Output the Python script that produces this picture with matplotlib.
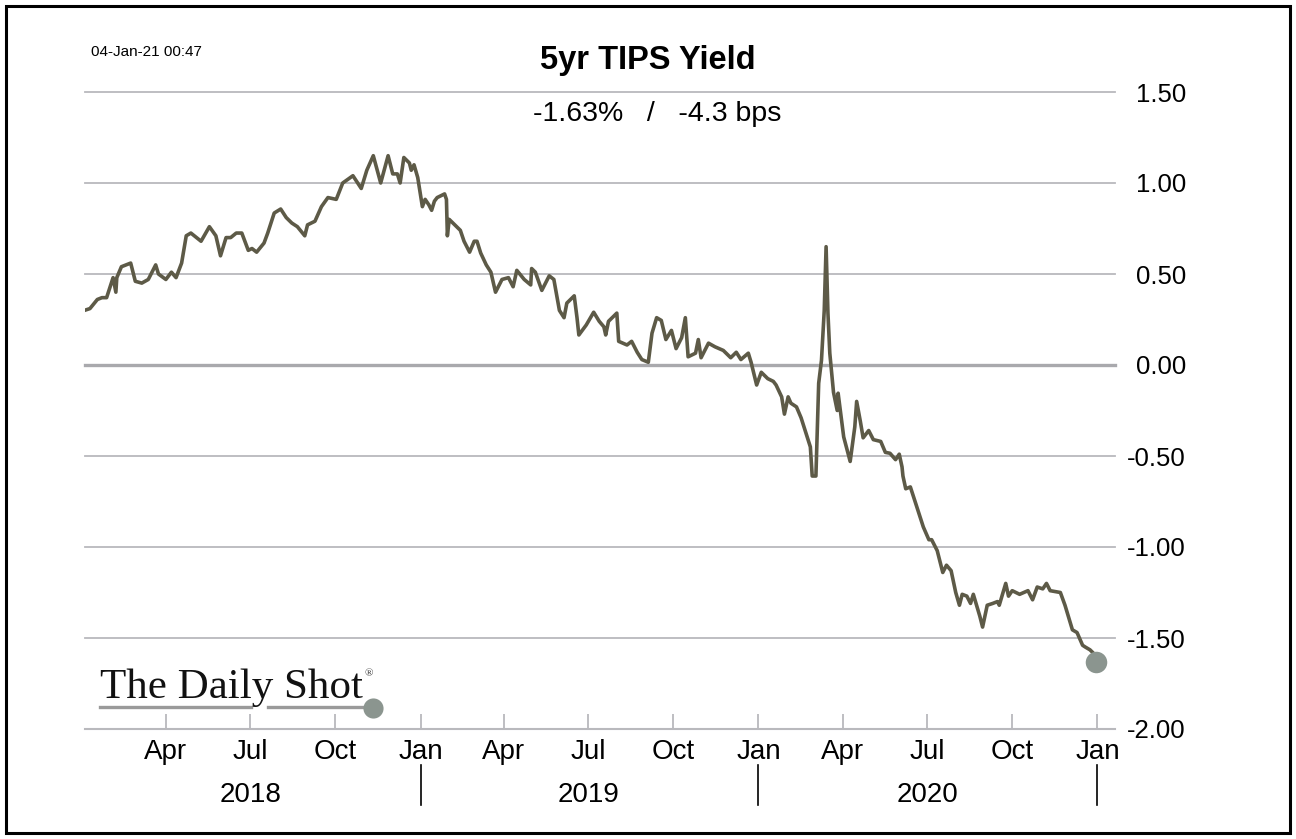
import matplotlib
matplotlib.use("Agg")
import matplotlib.pyplot as plt
import matplotlib.dates as mdates
import matplotlib.transforms as mtransforms
from matplotlib.patches import Rectangle
from matplotlib.lines import Line2D
import pandas as pd

# ---------------- data ----------------
dates = [
    "2018-01-03", "2018-01-09", "2018-01-17", "2018-01-22", "2018-01-27", "2018-02-03", "2018-02-06",
    "2018-02-07", "2018-02-12", "2018-02-22", "2018-02-27", "2018-03-06", "2018-03-13", "2018-03-21",
    "2018-03-24", "2018-04-01", "2018-04-07", "2018-04-12", "2018-04-18", "2018-04-23", "2018-04-28",
    "2018-05-09", "2018-05-18", "2018-05-25", "2018-05-30", "2018-06-05", "2018-06-10", "2018-06-16",
    "2018-06-22", "2018-06-29", "2018-07-03", "2018-07-08", "2018-07-16", "2018-07-20", "2018-07-27",
    "2018-08-03", "2018-08-09", "2018-08-15", "2018-08-21", "2018-08-29", "2018-09-01", "2018-09-09",
    "2018-09-16", "2018-09-23", "2018-10-02", "2018-10-09", "2018-10-20", "2018-10-29", "2018-11-04",
    "2018-11-11", "2018-11-19", "2018-11-27", "2018-12-02", "2018-12-07", "2018-12-10", "2018-12-14",
    "2018-12-20", "2018-12-22", "2018-12-25", "2018-12-29",
    "2019-01-03", "2019-01-06", "2019-01-10", "2019-01-13", "2019-01-16", "2019-01-19", "2019-01-27",
    "2019-01-29", "2019-01-30", "2019-02-01", "2019-02-09", "2019-02-13", "2019-02-17", "2019-02-23",
    "2019-02-28", "2019-03-03", "2019-03-07", "2019-03-13", "2019-03-18", "2019-03-23", "2019-03-30",
    "2019-04-06", "2019-04-11", "2019-04-15", "2019-04-23", "2019-04-30", "2019-05-01", "2019-05-05",
    "2019-05-12", "2019-05-20", "2019-05-25", "2019-05-31", "2019-06-05", "2019-06-08", "2019-06-16",
    "2019-06-19", "2019-06-21", "2019-06-29", "2019-07-07", "2019-07-13", "2019-07-18", "2019-07-20",
    "2019-07-23", "2019-08-01", "2019-08-03", "2019-08-12", "2019-08-17", "2019-08-23", "2019-08-28",
    "2019-09-04", "2019-09-08", "2019-09-13", "2019-09-18", "2019-09-23", "2019-09-29", "2019-10-04",
    "2019-10-10", "2019-10-14", "2019-10-17", "2019-10-25", "2019-10-28", "2019-10-31", "2019-11-08",
    "2019-11-15", "2019-11-24", "2019-12-02", "2019-12-08", "2019-12-13", "2019-12-21", "2019-12-24",
    "2019-12-30",
    "2020-01-04", "2020-01-11", "2020-01-17", "2020-01-20", "2020-01-26", "2020-01-29", "2020-02-02",
    "2020-02-05", "2020-02-11", "2020-02-16", "2020-02-21", "2020-02-26", "2020-02-28", "2020-03-03",
    "2020-03-06", "2020-03-09", "2020-03-12", "2020-03-14", "2020-03-16", "2020-03-18", "2020-03-22",
    "2020-03-26", "2020-03-27", "2020-04-02", "2020-04-09", "2020-04-14", "2020-04-16", "2020-04-20",
    "2020-04-23", "2020-04-29", "2020-05-04", "2020-05-12", "2020-05-17", "2020-05-22", "2020-05-28",
    "2020-06-01", "2020-06-04", "2020-06-05", "2020-06-08", "2020-06-13", "2020-06-20", "2020-06-27",
    "2020-07-03", "2020-07-06", "2020-07-12", "2020-07-18", "2020-07-22", "2020-07-27", "2020-08-01",
    "2020-08-05", "2020-08-08", "2020-08-13", "2020-08-17", "2020-08-20", "2020-08-27", "2020-08-30",
    "2020-09-04", "2020-09-10", "2020-09-15", "2020-09-17", "2020-09-24", "2020-09-27", "2020-10-01",
    "2020-10-09", "2020-10-18", "2020-10-23", "2020-10-28", "2020-11-03", "2020-11-07", "2020-11-11",
    "2020-11-22", "2020-11-27", "2020-12-05", "2020-12-10", "2020-12-16", "2020-12-19", "2020-12-24",
    "2020-12-29", "2020-12-31",
]
values = [
    0.30, 0.31, 0.36, 0.37, 0.37, 0.48, 0.40,
    0.48, 0.54, 0.56, 0.46, 0.45, 0.47, 0.55,
    0.50, 0.47, 0.51, 0.48, 0.56, 0.71, 0.725,
    0.68, 0.76, 0.71, 0.60, 0.70, 0.70, 0.725,
    0.725, 0.63, 0.64, 0.62, 0.67, 0.725, 0.835,
    0.857, 0.81, 0.78, 0.76, 0.71, 0.77, 0.79,
    0.87, 0.92, 0.91, 1.00, 1.04, 0.97, 1.07,
    1.15, 1.00, 1.15, 1.05, 1.05, 1.00, 1.14,
    1.11, 1.07, 1.10, 1.03,
    0.87, 0.91, 0.88, 0.85, 0.90, 0.92, 0.94,
    0.91, 0.71, 0.80, 0.76, 0.74, 0.68, 0.62,
    0.68, 0.68, 0.615, 0.55, 0.51, 0.40, 0.47,
    0.48, 0.43, 0.52, 0.47, 0.44, 0.53, 0.51,
    0.41, 0.49, 0.47, 0.30, 0.26, 0.34, 0.38,
    0.26, 0.165, 0.22, 0.29, 0.24, 0.21, 0.165,
    0.24, 0.285, 0.13, 0.11, 0.13, 0.07, 0.03,
    0.015, 0.175, 0.26, 0.245, 0.14, 0.19, 0.09,
    0.15, 0.26, 0.045, 0.065, 0.14, 0.04, 0.12,
    0.10, 0.08, 0.04, 0.07, 0.03, 0.065, 0.015,
    -0.11,
    -0.04, -0.075, -0.09, -0.11, -0.175, -0.27, -0.175,
    -0.21, -0.23, -0.29, -0.37, -0.45, -0.61, -0.61,
    -0.10, 0.025, 0.30, 0.65, 0.285, 0.065, -0.15,
    -0.25, -0.155, -0.395, -0.53, -0.34, -0.20, -0.31,
    -0.40, -0.36, -0.41, -0.42, -0.48, -0.485, -0.52,
    -0.49, -0.56, -0.61, -0.68, -0.67, -0.78, -0.89,
    -0.96, -0.96, -1.02, -1.14, -1.10, -1.13, -1.25,
    -1.32, -1.26, -1.27, -1.31, -1.26, -1.38, -1.44,
    -1.32, -1.31, -1.30, -1.32, -1.20, -1.27, -1.24,
    -1.26, -1.24, -1.29, -1.22, -1.23, -1.20, -1.24,
    -1.25, -1.32, -1.455, -1.47, -1.54, -1.55, -1.565,
    -1.59, -1.63,
]

title = "5yr TIPS Yield"
subtitle = "-1.63%   /   -4.3 bps"
timestamp = "04-Jan-21 00:47"
logo_text = "The Daily Shot"
y_ticks = [1.5, 1.0, 0.5, 0.0, -0.5, -1.0, -1.5, -2.0]
y_tick_labels = ["1.50", "1.00", "0.50", "0.00", "-0.50", "-1.00", "-1.50", "-2.00"]
month_ticks = ["2018-04-01", "2018-07-01", "2018-10-01", "2019-01-01", "2019-04-01", "2019-07-01",
               "2019-10-01", "2020-01-01", "2020-04-01", "2020-07-01", "2020-10-01", "2021-01-01"]
month_labels = ["Apr", "Jul", "Oct", "Jan", "Apr", "Jul", "Oct", "Jan", "Apr", "Jul", "Oct", "Jan"]
year_labels = ["2018", "2019", "2020"]
year_centers = ["2018-07-02", "2019-07-02", "2020-07-02"]
year_bounds = ["2019-01-01", "2020-01-01", "2021-01-01"]
x_range = ["2018-01-03 16:00", "2021-01-20"]

# ---------------- style ----------------
plt.rcParams['font.family'] = ['Liberation Sans', 'DejaVu Sans']
W, H = 1296, 839
fig = plt.figure(figsize=(W / 100, H / 100), dpi=100)
fig.patch.set_facecolor("white")

ax_left, ax_right, ax_top, ax_bot = 85, 1115, 92, 729
ax = fig.add_axes([ax_left / W, 1 - ax_bot / H, (ax_right - ax_left) / W, (ax_bot - ax_top) / H])
ax.set_facecolor("none")

line_color = "#5d5a47"
grid_color = "#b9b9bd"
dot_color = "#8b958f"

x = pd.to_datetime(dates)
ax.plot(x, values, color=line_color, lw=2.6, solid_joinstyle="round", zorder=3)
ax.plot(x[-1], values[-1], "o", ms=15.5, color=dot_color, mec="none", zorder=4, clip_on=False)

ax.set_ylim(-2.0, 1.5)
ax.set_xlim(pd.to_datetime(x_range[0]), pd.to_datetime(x_range[1]))

for v in y_ticks:
    if v == 0.0:
        ax.axhline(v, color="#a9a9ad", lw=2.4, zorder=1, clip_on=False)
    elif v == -2.0:
        continue
    else:
        ax.axhline(v, color=grid_color, lw=1.3, zorder=1, clip_on=False)

for s in ["top", "left", "right"]:
    ax.spines[s].set_visible(False)
ax.spines["bottom"].set_color(grid_color)
ax.spines["bottom"].set_linewidth(1.5)

ax.yaxis.tick_right()
ax.set_yticks(y_ticks)
ax.set_yticklabels(y_tick_labels)
ax.tick_params(axis="y", length=0, pad=51, labelsize=18.5)
for lab in ax.get_yticklabels():
    lab.set_horizontalalignment("right")

ax.set_xticks(pd.to_datetime(month_ticks))
ax.set_xticklabels(month_labels)
ax.tick_params(axis="x", direction="in", length=10.5, width=1.3, color=grid_color,
               pad=7.5, labelsize=20)

trans = mtransforms.blended_transform_factory(ax.transData, ax.transAxes)
for lab, c in zip(year_labels, year_centers):
    ax.text(pd.to_datetime(c), -0.104, lab, transform=trans, ha="center", va="center", fontsize=20)
for b in year_bounds:
    ax.add_line(Line2D([mdates.date2num(pd.to_datetime(b))] * 2, [-0.057, -0.119],
                       transform=trans, color="black", lw=1.2, clip_on=False))

# ---------------- texts ----------------
fig.text(648 / W, 1 - 60 / H, title, ha="center", va="center", fontsize=23.5, fontweight="bold")
fig.text(657 / W, 1 - 114 / H, subtitle, ha="center", va="center", fontsize=20.5)
fig.text(91 / W, 1 - 52 / H, timestamp, ha="left", va="center", fontsize=11)

# logo
fig.text(100 / W, 1 - 698 / H, logo_text, ha="left", va="baseline", fontsize=31,
         family=["Liberation Serif", "DejaVu Serif"], color="#111111")
fig.text(365 / W, 1 - 674 / H, "\u00ae", ha="left", va="center", fontsize=8,
         family=["Liberation Serif", "DejaVu Serif"], color="#333333")
fig.add_artist(Line2D([100 / W, 251 / W], [1 - 707 / H] * 2, color="#9a9a9a", lw=2.4))
fig.add_artist(Line2D([268 / W, 370 / W], [1 - 707 / H] * 2, color="#9a9a9a", lw=2.4))
fig.add_artist(Line2D([373 / W], [1 - 708 / H], marker="o", ms=14.5, color=dot_color, mec="none"))

# border
fig.add_artist(Rectangle((6 / W, 6 / H), (W - 12) / W, (H - 12) / H, transform=fig.transFigure,
                         fill=False, edgecolor="black", lw=2.2))

fig.savefig("out.png", dpi=100, facecolor="white")
